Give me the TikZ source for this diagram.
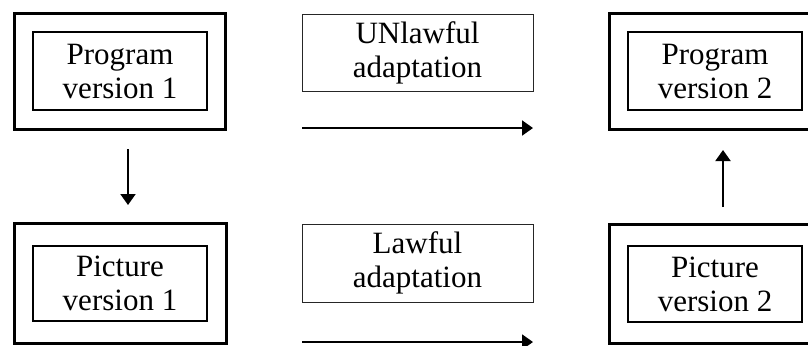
\documentclass[tikz,border=0pt]{standalone}
\usepackage{fontspec}
\setmainfont{Liberation Serif}
\usetikzlibrary{arrows.meta}
\begin{document}
\begin{tikzpicture}[x=0.5pt,y=-0.5pt,
  outerbox/.style={draw=black,line width=1.5pt,inner sep=0pt,minimum width=105.5pt},
  innerbox/.style={draw=black,line width=0.65pt,inner sep=0pt,minimum width=87pt,
    align=center,font=\fontsize{15.5pt}{17pt}\selectfont},
  labelbox/.style={draw=black!85,line width=0.5pt,inner sep=0pt,minimum width=115.5pt,
    align=center,font=\fontsize{15.5pt}{17pt}\selectfont},
  flow/.style={line width=1pt,-{Triangle[length=5.5pt,width=7.5pt]}}]
\useasboundingbox (0,0) rectangle (808,345);
\clip (0,0) rectangle (808,345);

% left column: version 1
\node[outerbox,minimum height=58pt] (p1out) at (119.5,71) {};
\node[innerbox,minimum height=39pt] (p1) at (120,71) {Program\\version 1};
\node[outerbox,minimum height=60pt,minimum width=106pt] (q1out) at (120,283) {};
\node[innerbox,minimum height=37.5pt] (q1) at (120,283.5) {Picture\\version 1};

% right column: version 2
\node[outerbox,minimum height=58pt] (p2out) at (714.5,71.5) {};
\node[innerbox,minimum height=39pt] (p2) at (715,71) {Program\\version 2};
\node[outerbox,minimum height=59.5pt] (q2out) at (714.5,283.5) {};
\node[innerbox,minimum height=38pt] (q2) at (715,284) {Picture\\version 2};

% middle labels
\node[labelbox,minimum height=38.5pt] (ul) at (417.5,52.5) {UNlawful\\adaptation};
\node[labelbox,minimum height=39pt] (lw) at (417.5,263) {Lawful\\adaptation};

% arrow end points
\coordinate (ua) at (302,128);
\coordinate (ub) at (533,128);
\coordinate (la) at (302,342);
\coordinate (lb) at (533,342);
\coordinate (da) at (128,149);
\coordinate (db) at (128,205);
\coordinate (ra) at (723,207);
\coordinate (rb) at (723,150);

\draw[flow] (ua) -- (ub);
\draw[flow] (la) -- (lb);
\draw[flow] (da) -- (db);
\draw[flow] (ra) -- (rb);
\end{tikzpicture}
\end{document}
